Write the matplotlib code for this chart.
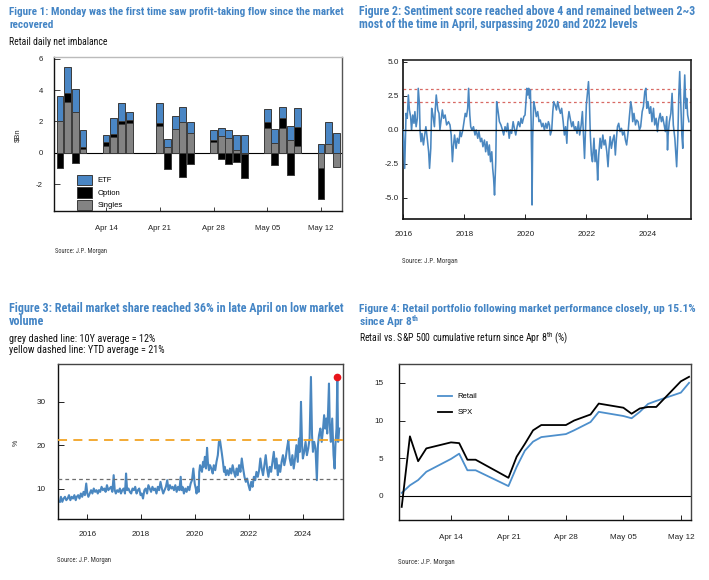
import matplotlib
matplotlib.use("Agg")
import matplotlib.pyplot as plt
import matplotlib.dates as mdates
from matplotlib import font_manager as fm
import numpy as np

plt.rcParams['axes.unicode_minus'] = False

# ---------------- data ----------------
# Figure 1: retail daily net imbalance ($bn)
flow_dates = ['2025-04-08', '2025-04-09', '2025-04-10', '2025-04-11',
              '2025-04-14', '2025-04-15', '2025-04-16', '2025-04-17',
              '2025-04-21', '2025-04-22', '2025-04-23', '2025-04-24', '2025-04-25',
              '2025-04-28', '2025-04-29', '2025-04-30', '2025-05-01', '2025-05-02',
              '2025-05-05', '2025-05-06', '2025-05-07', '2025-05-08', '2025-05-09',
              '2025-05-12', '2025-05-13', '2025-05-14']
singles = [2.00, 3.25, 2.57, 0.23, 0.43, 0.98, 1.83, 1.91, 1.72, 0.38, 1.49, 1.98, 1.23,
           0.66, 1.06, 0.91, 0.20, -0.10, 1.55, 0.60, 1.55, 0.81, 0.45, -0.96, 0.53, -0.90]
options = [-1.00, 0.58, -0.68, 0.15, 0.27, 0.21, 0.21, 0.18, 0.19, -1.05, 0.00, -1.57, -0.74,
           0.15, -0.42, -0.70, -0.60, -1.50, 0.43, -0.78, 0.68, -1.40, 1.21, -2.02, 0.00, 0.00]
etfs = [1.60, 1.62, 1.47, 1.05, 0.40, 1.00, 1.11, 0.53, 1.28, 0.49, 0.85, 0.96, 0.71,
        0.64, 0.53, 0.53, 0.92, 1.10, 0.79, 0.91, 0.71, 0.91, 1.17, 0.53, 1.41, 1.23]

# Figure 2: sentiment score
sent_years = [
    2016.00, 2016.045, 2016.09, 2016.13, 2016.165, 2016.20, 2016.24, 2016.27, 2016.31, 2016.35,
    2016.38, 2016.42, 2016.46, 2016.49, 2016.53, 2016.55, 2016.58, 2016.61, 2016.66, 2016.70,
    2016.74, 2016.79, 2016.83, 2016.86, 2016.90, 2016.93, 2016.97, 2017.02, 2017.05, 2017.08,
    2017.13, 2017.17, 2017.20, 2017.24, 2017.28, 2017.32, 2017.37, 2017.42, 2017.48, 2017.53,
    2017.57, 2017.61, 2017.64, 2017.68, 2017.73, 2017.77, 2017.82, 2017.86, 2017.90, 2017.95,
    2017.99, 2018.03, 2018.07, 2018.11, 2018.14, 2018.18, 2018.21, 2018.25, 2018.30, 2018.35,
    2018.39, 2018.44, 2018.48, 2018.53, 2018.57, 2018.61, 2018.66, 2018.70, 2018.74, 2018.79,
    2018.82, 2018.86, 2018.90, 2018.93, 2018.96, 2018.99, 2019.03, 2019.06, 2019.10, 2019.15,
    2019.20, 2019.25, 2019.29, 2019.335, 2019.38, 2019.42, 2019.47, 2019.51, 2019.55, 2019.60,
    2019.64, 2019.685, 2019.73, 2019.77, 2019.82, 2019.86, 2019.90, 2019.95, 2019.99, 2020.02,
    2020.05, 2020.08, 2020.11, 2020.14, 2020.165, 2020.19, 2020.21, 2020.22, 2020.24, 2020.275,
    2020.32, 2020.36, 2020.405, 2020.45, 2020.49, 2020.54, 2020.58, 2020.625, 2020.67, 2020.71,
    2020.755, 2020.79, 2020.82, 2020.865, 2020.90, 2020.93, 2020.975, 2021.02, 2021.06, 2021.105,
    2021.15, 2021.19, 2021.24, 2021.28, 2021.32, 2021.36, 2021.39, 2021.43, 2021.48, 2021.52,
    2021.565, 2021.61, 2021.65, 2021.695, 2021.74, 2021.78, 2021.83, 2021.87, 2021.90, 2021.94,
    2021.97, 2022.00, 2022.03, 2022.07, 2022.10, 2022.13, 2022.165, 2022.20, 2022.25, 2022.285,
    2022.32, 2022.35, 2022.37, 2022.405, 2022.45, 2022.49, 2022.54, 2022.58, 2022.62, 2022.67,
    2022.71, 2022.745, 2022.78, 2022.82, 2022.865, 2022.91, 2022.95, 2022.985, 2023.02, 2023.06,
    2023.105, 2023.15, 2023.19, 2023.24, 2023.28, 2023.32, 2023.37, 2023.41, 2023.455, 2023.49,
    2023.52, 2023.56, 2023.61, 2023.65, 2023.695, 2023.74, 2023.78, 2023.83, 2023.87, 2023.915,
    2023.95, 2023.98, 2024.02, 2024.07, 2024.11, 2024.15, 2024.20, 2024.24, 2024.285, 2024.33,
    2024.37, 2024.42, 2024.46, 2024.50, 2024.55, 2024.59, 2024.635, 2024.66, 2024.68, 2024.72,
    2024.77, 2024.81, 2024.85, 2024.90, 2024.93, 2024.96, 2025.00, 2025.03, 2025.06, 2025.09,
    2025.13, 2025.16, 2025.19, 2025.225, 2025.26, 2025.29, 2025.32, 2025.36]
sent_values = [
    -0.02, -2.84, 1.20, 0.84, 2.55, 1.45, 0.96, -0.02, 1.08, 0.47,
    1.33, 0.22, 0.84, 3.04, 1.82, -0.14, -0.88, -0.27, -1.12, -0.39,
    0.22, -0.76, -1.62, -2.84, -1.37, 1.57, 1.08, 0.22, 1.57, 2.55,
    1.45, 1.20, -0.02, 0.71, 1.45, 0.84, 1.08, 0.35, 0.59, 0.35,
    -0.39, -2.35, -1.25, -0.39, -1.37, -0.63, -1.00, -0.14, -0.51, -0.02,
    0.59, 1.20, 0.96, 1.57, 3.04, 1.08, 0.22, -0.02, 0.22, -0.39,
    -0.02, -0.63, -0.14, -0.88, -0.63, -1.25, -0.76, -1.62, -0.88, -1.86,
    -1.12, -2.35, -1.62, -2.84, -3.58, -4.80, -2.35, 2.06, 1.45, 0.59,
    0.35, -0.02, -0.39, 0.22, -0.14, 0.47, -0.63, -0.02, -0.27, 0.59,
    0.10, -0.39, 0.22, 0.59, 0.22, 0.84, 0.47, 0.96, 1.08, 2.06,
    3.04, 2.55, 3.04, 2.30, 2.92, 0.59, -2.60, -5.53, -0.63, 2.06,
    1.57, 0.96, 1.33, 0.59, 0.71, 0.22, 0.47, -0.02, 0.47, 0.10,
    0.59, 0.35, -0.39, -0.02, 1.33, 2.06, 1.82, 1.45, 2.06, 1.57,
    1.20, 1.57, 0.59, -0.39, 0.22, -1.00, 0.59, 1.33, 0.71, 0.22,
    0.59, -0.02, 0.22, -0.27, 0.59, -0.39, 0.35, 1.33, -0.14, -2.11,
    -0.14, 1.82, 2.55, 3.53, 2.06, -0.39, -1.86, -2.35, -0.63, -2.35,
    -1.49, -2.60, -3.70, -1.86, -0.63, -1.37, -0.39, -1.12, -0.76, -1.62,
    -2.72, -1.37, -0.51, -1.37, -0.76, -0.39, -1.86, -0.63, 0.22, 0.47,
    -0.14, 0.10, -0.39, -0.14, -0.76, -1.12, -0.14, 0.96, 2.06, 1.57,
    0.59, 1.20, 0.35, 0.71, 0.59, -0.02, 0.22, 1.33, 1.69, 2.79,
    3.04, 1.57, 2.06, 1.20, 1.69, 0.59, 1.57, 0.35, 0.84, -0.14,
    0.71, 1.20, 0.59, 0.96, 0.35, -0.14, 0.96, -1.49, -0.39, 0.59,
    1.20, 2.67, 0.35, -0.63, -1.62, -2.72, -0.39, 2.55, 4.27, 2.30,
    -0.39, -1.37, 1.82, 4.02, 1.57, 2.30, 1.08, 0.59]
sent_upper = 3.0
sent_lower = 2.0

# Figure 3: retail market share (%)
share_years = [
    2014.98, 2015.02, 2015.07, 2015.12, 2015.17, 2015.22, 2015.27, 2015.32, 2015.37, 2015.42,
    2015.47, 2015.52, 2015.57, 2015.61, 2015.66, 2015.71, 2015.76, 2015.81, 2015.86, 2015.91,
    2015.96, 2016.00, 2016.04, 2016.09, 2016.14, 2016.19, 2016.24, 2016.29, 2016.34, 2016.39,
    2016.43, 2016.48, 2016.53, 2016.58, 2016.63, 2016.68, 2016.73, 2016.78, 2016.83, 2016.88,
    2016.93, 2016.98, 2017.02, 2017.06, 2017.11, 2017.16, 2017.21, 2017.25, 2017.30, 2017.35,
    2017.40, 2017.44, 2017.48, 2017.53, 2017.58, 2017.63, 2017.68, 2017.73, 2017.78, 2017.83,
    2017.88, 2017.93, 2017.98, 2018.02, 2018.07, 2018.12, 2018.17, 2018.22, 2018.27, 2018.32,
    2018.37, 2018.42, 2018.47, 2018.52, 2018.57, 2018.62, 2018.67, 2018.72, 2018.77, 2018.82,
    2018.87, 2018.92, 2018.97, 2019.02, 2019.07, 2019.12, 2019.17, 2019.22, 2019.27, 2019.32,
    2019.37, 2019.42, 2019.47, 2019.50, 2019.54, 2019.59, 2019.64, 2019.69, 2019.74, 2019.79,
    2019.84, 2019.89, 2019.94, 2019.99, 2020.03, 2020.06, 2020.10, 2020.14, 2020.16, 2020.19,
    2020.22, 2020.26, 2020.30, 2020.33, 2020.37, 2020.41, 2020.45, 2020.48, 2020.52, 2020.56,
    2020.61, 2020.66, 2020.70, 2020.755, 2020.80, 2020.85, 2020.89, 2020.93, 2020.965, 2021.00,
    2021.04, 2021.08, 2021.11, 2021.15, 2021.20, 2021.25, 2021.30, 2021.35, 2021.40, 2021.45,
    2021.50, 2021.545, 2021.59, 2021.64, 2021.69, 2021.74, 2021.79, 2021.84, 2021.89, 2021.94,
    2021.99, 2022.04, 2022.09, 2022.14, 2022.19, 2022.24, 2022.285, 2022.335, 2022.385, 2022.43,
    2022.48, 2022.53, 2022.58, 2022.63, 2022.68, 2022.73, 2022.78, 2022.83, 2022.88, 2022.93,
    2022.98, 2023.03, 2023.08, 2023.125, 2023.17, 2023.22, 2023.27, 2023.32, 2023.37, 2023.42,
    2023.47, 2023.52, 2023.57, 2023.62, 2023.67, 2023.72, 2023.77, 2023.82, 2023.865, 2023.90,
    2023.94, 2023.98, 2024.01, 2024.06, 2024.11, 2024.16, 2024.21, 2024.26, 2024.31, 2024.35,
    2024.385, 2024.43, 2024.48, 2024.53, 2024.57, 2024.61, 2024.66, 2024.71, 2024.75, 2024.80,
    2024.84, 2024.88, 2024.915, 2024.95, 2024.98, 2025.01, 2025.05, 2025.10, 2025.15, 2025.19,
    2025.22, 2025.26, 2025.29, 2025.32, 2025.36]
share_values = [
    7.03, 8.18, 7.03, 7.79, 8.18, 7.41, 7.79, 8.56, 7.41, 8.18,
    7.79, 8.56, 7.41, 8.18, 8.56, 7.79, 8.94, 8.18, 9.32, 8.56,
    11.23, 8.94, 8.18, 8.94, 9.70, 8.94, 10.08, 9.32, 9.70, 8.94,
    9.70, 9.32, 10.47, 9.70, 10.08, 9.32, 10.85, 9.70, 10.08, 10.47,
    9.32, 13.14, 9.70, 8.94, 9.70, 9.32, 10.08, 8.94, 9.70, 10.08,
    8.94, 13.52, 9.70, 10.08, 9.32, 8.94, 10.08, 9.70, 10.47, 8.94,
    9.70, 10.08, 8.56, 8.94, 7.79, 9.70, 10.08, 8.94, 10.85, 10.08,
    9.32, 10.47, 9.70, 10.08, 8.94, 10.47, 9.70, 11.61, 10.08, 8.94,
    9.70, 10.47, 11.99, 9.70, 10.85, 10.08, 10.47, 9.70, 10.85, 9.32,
    10.47, 9.70, 12.76, 9.70, 10.47, 8.94, 10.08, 9.32, 10.47, 9.70,
    11.23, 11.99, 14.66, 11.23, 10.08, 8.94, 10.47, 9.32, 13.90, 15.43,
    14.66, 13.90, 16.19, 15.05, 17.34, 14.66, 19.40, 16.19, 14.28, 15.43,
    14.66, 13.52, 15.43, 14.28, 16.19, 17.72, 20.77, 21.15, 19.63, 18.10,
    16.19, 13.90, 15.05, 13.14, 14.28, 13.14, 14.66, 13.52, 15.43, 13.90,
    12.76, 14.66, 13.14, 15.43, 13.90, 16.96, 14.66, 12.76, 11.61, 12.37,
    10.85, 9.70, 11.61, 10.47, 12.76, 11.99, 13.90, 12.76, 14.28, 16.96,
    14.66, 13.14, 15.43, 17.72, 14.66, 12.76, 15.05, 13.90, 16.19, 18.48,
    14.66, 16.96, 13.14, 15.43, 13.90, 16.19, 17.72, 15.43, 16.96, 19.25,
    21.15, 16.96, 15.43, 17.72, 14.66, 16.96, 20.01, 16.19, 21.53, 18.48,
    29.93, 20.01, 16.96, 18.48, 20.77, 17.72, 19.25, 21.53, 35.64, 22.30,
    18.48, 20.77, 19.25, 11.99, 20.01, 22.30, 23.82, 20.77, 23.06, 26.88,
    23.82, 26.11, 22.68, 28.40, 34.12, 24.59, 20.77, 26.11, 17.72, 14.66,
    20.01, 23.82, 35.64, 20.77, 23.82]
share_peak_year = 2025.29
share_peak_value = 35.64
avg_10y = 12.2
avg_ytd = 21.1

# Figure 4: cumulative return since Apr 8th (%)
perf_dates = ['2025-04-08', '2025-04-09', '2025-04-10', '2025-04-11',
              '2025-04-14', '2025-04-15', '2025-04-16', '2025-04-17',
              '2025-04-21', '2025-04-22', '2025-04-23', '2025-04-24', '2025-04-25',
              '2025-04-28', '2025-04-29', '2025-04-30', '2025-05-01', '2025-05-02',
              '2025-05-05', '2025-05-06', '2025-05-07', '2025-05-08', '2025-05-09',
              '2025-05-12', '2025-05-13']
retail_ret = [0.4, 1.4, 2.1, 3.2, 4.9, 5.6, 3.4, 3.4, 1.3, 3.85, 6.0, 7.2, 7.8,
              8.2, 8.7, 9.25, 9.8, 11.15, 10.6, 10.3, 11.15, 12.2, 12.6, 13.7, 15.0]
spx_ret = [-1.46, 7.9, 4.6, 6.3, 7.1, 7.0, 4.8, 4.8, 2.4, 5.2, 6.9, 8.7, 9.4,
           9.4, 10.0, 10.4, 10.8, 12.25, 11.7, 10.9, 11.6, 11.8, 11.8, 15.2, 15.8]

assert len(sent_years) == len(sent_values)
assert len(share_years) == len(share_values)

# ---------------- style ----------------
names = {f.name for f in fm.fontManager.ttflist}
def pick(cands, default):
    for c in cands:
        if c in names:
            return c
    return default
BASE = pick(['Liberation Sans', 'Arial'], 'DejaVu Sans')
NARROW = pick(['Liberation Sans Narrow', 'Arial Narrow', 'Roboto Condensed'], BASE)
plt.rcParams['font.family'] = [BASE, 'DejaVu Sans']

TITLE_C = '#4485C5'
BLUE = '#4A87C0'
ETF_C = '#4A86C4'
GREY = '#838383'
EDGE = '#3A3A3A'

W, H = 709, 580
fig = plt.figure(figsize=(W / 100, H / 100), dpi=100)
fig.patch.set_facecolor('white')
renderer = fig.canvas.get_renderer()

def add_ax(l, t, r, b):
    return fig.add_axes([l / W, 1 - b / H, (r - l) / W, (b - t) / H])

def put(x, y, s, width=None, size=7.0, **kw):
    t = fig.text(x / W, 1 - y / H, s, fontsize=size, ha='left', va='baseline', **kw)
    if width:
        w = t.get_window_extent(renderer).width
        t.set_fontsize(size * width / w)
    return t

def style_spines(ax, lw=1.0, top='#333333', right='#333333'):
    for s in ['left', 'bottom']:
        ax.spines[s].set_color('#111111')
        ax.spines[s].set_linewidth(lw)
    ax.spines['top'].set_color(top)
    ax.spines['right'].set_color(right)
    ax.spines['top'].set_linewidth(lw)
    ax.spines['right'].set_linewidth(lw)

# ---------------- Figure 1 ----------------
ax1 = add_ax(54.3, 57.3, 341.7, 211)
d1 = mdates.datestr2num(flow_dates)
pos = np.zeros(len(d1))
neg = np.zeros(len(d1))
conts = {}
for name, vals, col in [('Singles', singles, GREY), ('Option', options, 'black'), ('ETF', etfs, ETF_C)]:
    v = np.array(vals, dtype=float)
    bottom = np.where(v >= 0, pos, neg)
    conts[name] = ax1.bar(d1, v, bottom=bottom, width=0.9, color=col, edgecolor=EDGE,
                          linewidth=0.7, label=name, zorder=3)
    pos = np.where(v >= 0, pos + v, pos)
    neg = np.where(v < 0, neg + v, neg)
ax1.axhline(0, color='black', lw=0.8, zorder=2)
ax1.set_xlim(mdates.datestr2num('2025-04-07') + 0.26, mdates.datestr2num('2025-05-14') + 0.7)
ax1.set_ylim(-3.72, 6.09)
ax1.set_yticks([-2, 0, 2, 4, 6])
ax1.xaxis.set_major_locator(mdates.WeekdayLocator(byweekday=mdates.MO))
ax1.xaxis.set_major_formatter(mdates.DateFormatter('%b %d'))
ax1.tick_params(axis='x', direction='in', length=3, width=0.6, labelsize=5.6, pad=10, colors='#222222')
ax1.tick_params(axis='y', direction='in', length=4, width=0.6, labelsize=5.6, pad=8.3, colors='#222222')
style_spines(ax1, lw=1.0, top='#BBBBBB', right='#555555')
leg1 = ax1.legend([conts['ETF'], conts['Option'], conts['Singles']], ['ETF', 'Option', 'Singles'],
                  loc='lower left', bbox_to_anchor=(0.079, 0.005), frameon=False, fontsize=5.5,
                  handlelength=2.0, handleheight=1.75, labelspacing=0.25, handletextpad=0.7,
                  borderpad=0.0, borderaxespad=0.0)
fig.text(18 / W, 1 - 135 / H, '$Bn', rotation=90, fontsize=5.5, ha='center', va='center', color='#222222')

t = put(9, 14.7, 'Figure 1: Monday was the first time saw profit-taking flow since the market',
        width=337, family=NARROW, weight='bold', color=TITLE_C)
put(9, 28.2, 'recovered', size=t.get_fontsize(), family=NARROW, weight='bold', color=TITLE_C)
put(9, 45.3, 'Retail daily net imbalance', width=99, family=NARROW, color='#111111')
put(55, 253, 'Source: J.P. Morgan', width=53, family=NARROW, color='#333333')

# ---------------- Figure 2 ----------------
ax2 = add_ax(402.7, 60, 691, 219)
ax2.plot(sent_years, sent_values, color=BLUE, lw=1.15, zorder=3)
ax2.axhline(0, color='black', lw=0.9, zorder=4)
ax2.axhline(sent_upper, color='#D86A64', lw=0.9, ls=(0, (2.2, 2.2)), zorder=2)
ax2.axhline(sent_lower, color='#D86A64', lw=0.9, ls=(0, (2.2, 2.2)), zorder=2)
ax2.set_xlim(2015.98, 2025.43)
ax2.set_ylim(-6.56, 5.12)
ax2.set_xticks([2016, 2018, 2020, 2022, 2024])
ax2.set_xticklabels(['2016', '2018', '2020', '2022', '2024'])
ax2.set_yticks([-5.0, -2.5, 0.0, 2.5, 5.0])
ax2.set_yticklabels(['-5.0', '-2.5', '0.0', '2.5', '5.0'])
ax2.tick_params(axis='x', direction='in', length=3.5, width=0.7, labelsize=5.9, pad=9, colors='#222222')
ax2.tick_params(axis='y', direction='in', length=3, width=0.7, labelsize=5.9, pad=2.5, colors='#222222')
style_spines(ax2, lw=1.2, top='#222222', right='#222222')

t = put(359, 14.7, 'Figure 2: Sentiment score reached above 4 and remained between 2~3',
        width=335, family=NARROW, weight='bold', color=TITLE_C)
put(359, 28.3, 'most of the time in April, surpassing 2020 and 2022 levels', size=t.get_fontsize(),
    family=NARROW, weight='bold', color=TITLE_C)
put(402, 262.7, 'Source: J.P. Morgan', width=56, family=NARROW, color='#333333')

# ---------------- Figure 3 ----------------
ax3 = add_ax(57.7, 364, 342.7, 519)
ax3.plot(share_years, share_values, color=BLUE, lw=1.5, zorder=2)
ax3.axhline(avg_ytd, color='#F2A424', lw=1.3, ls=(0, (5, 3.5)), zorder=3)
ax3.axhline(avg_10y, color='#6E6E6E', lw=0.9, ls=(0, (3, 2.5)), zorder=3)
ax3.plot([share_peak_year], [share_peak_value], 'o', color='#E8141B', ms=4.5, zorder=5)
ax3.set_xlim(2014.9, 2025.49)
ax3.set_ylim(3.1, 38.6)
ax3.set_xticks([2016, 2018, 2020, 2022, 2024])
ax3.set_xticklabels(['2016', '2018', '2020', '2022', '2024'])
ax3.set_yticks([10, 20, 30])
ax3.tick_params(axis='x', direction='in', length=3.5, width=0.7, labelsize=5.9, pad=9, colors='#222222')
ax3.tick_params(axis='y', direction='in', length=4, width=0.7, labelsize=5.9, pad=8.6, colors='#222222')
style_spines(ax3, lw=1.0, top='#444444', right='#444444')
fig.text(16 / W, 1 - 443 / H, '%', rotation=90, fontsize=5.0, ha='center', va='center', color='#222222')

t = put(9, 311.7, 'Figure 3: Retail market share reached 36% in late April on low market',
        width=337, family=NARROW, weight='bold', color=TITLE_C)
put(9, 325.3, 'volume', size=t.get_fontsize(), family=NARROW, weight='bold', color=TITLE_C)
put(9, 341.7, 'grey dashed line: 10Y average = 12%', width=147, family=NARROW, color='#111111')
put(9, 353.3, 'yellow dashed line: YTD average = 21%', width=156, family=NARROW, color='#111111')
put(57, 561.7, 'Source: J.P. Morgan', width=55, family=NARROW, color='#333333')

# ---------------- Figure 4 ----------------
ax4 = add_ax(399, 364, 690.7, 520)
d4 = mdates.datestr2num(perf_dates)
ax4.plot(d4, retail_ret, color='#4D8FCC', lw=1.3, label='Retail', zorder=3)
ax4.plot(d4, spx_ret, color='black', lw=1.3, label='SPX', zorder=4)
ax4.axhline(0, color='black', lw=0.8, zorder=2)
ax4.set_xlim(mdates.datestr2num('2025-04-07') + 0.67, mdates.datestr2num('2025-05-13') + 0.2)
ax4.set_ylim(-3.2, 17.5)
ax4.set_yticks([0, 5, 10, 15])
ax4.xaxis.set_major_locator(mdates.WeekdayLocator(byweekday=mdates.MO))
ax4.xaxis.set_major_formatter(mdates.DateFormatter('%b %d'))
ax4.tick_params(axis='x', direction='in', length=3.5, width=0.7, labelsize=5.9, pad=10, colors='#222222')
ax4.tick_params(axis='y', direction='in', length=4, width=0.7, labelsize=5.9, pad=11, colors='#222222')
style_spines(ax4, lw=1.0, top='#444444', right='#444444')
ax4.legend(loc='upper left', bbox_to_anchor=(0.135, 0.815), frameon=False, fontsize=5.5,
           handlelength=1.75, labelspacing=1.15, handletextpad=0.8, borderpad=0.0, borderaxespad=0.0)

t = put(359, 311.7, 'Figure 4: Retail portfolio following market performance closely, up 15.1%',
        width=336, family=NARROW, weight='bold', color=TITLE_C)
put(359, 325.7, r'since Apr 8$^{\mathregular{th}}$', size=t.get_fontsize(), family=NARROW,
    weight='bold', color=TITLE_C)
put(359, 341.7, r'Retail vs. S&P 500 cumulative return since Apr 8$^{\mathregular{th}}$ (%)',
    width=210, family=NARROW, color='#111111')
put(398, 564, 'Source: J.P. Morgan', width=57, family=NARROW, color='#333333')

fig.savefig('out.png', dpi=100, facecolor='white')
